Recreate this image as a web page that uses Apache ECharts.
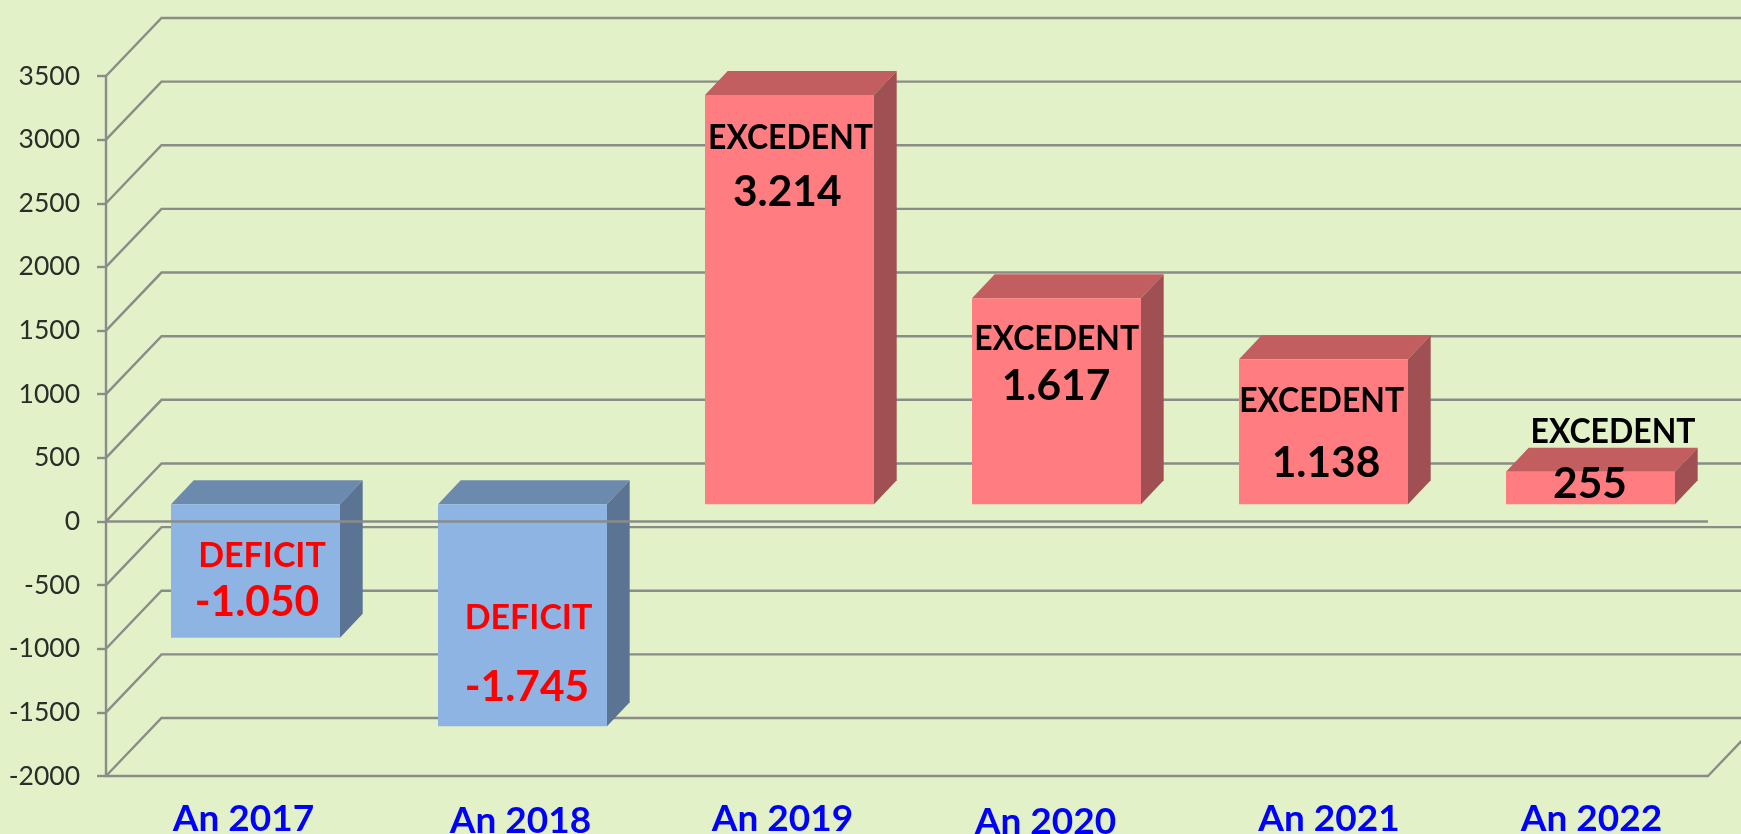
<!DOCTYPE html>
<html>
<head>
<meta charset="utf-8">
<style>html,body{margin:0;padding:0;background:#e3f1c9;overflow:hidden}#c{width:1741px;height:834px}</style>
<script src="https://cdn.jsdelivr.net/npm/echarts@6/dist/echarts.min.js"></script>
</head>
<body>
<div id="c"></div>
<script>
// ---- data ----
const categories = ['An 2017','An 2018','An 2019','An 2020','An 2021','An 2022'];
const balance = [-1050,-1745,3214,1617,1138,255];
const kindLabels = ['DEFICIT','DEFICIT','EXCEDENT','EXCEDENT','EXCEDENT','EXCEDENT'];
const valueLabels = ['-1.050','-1.745','3.214','1.617','1.138','255'];
const gridValues = [-2000,-1500,-1000,-500,0,500,1000,1500,2000,2500,3000,3500];

// ---- layout of hand-placed text boxes (px from band centre / zero line) ----
const categoryNudge = [[4,0],[14,2],[9,0],[5,3],[21.5,0],[17,-1]];
const kindNudge = [[22.5,34.2],[22,96.4],[17,-383.1],[16.2,-182],[14.1,-120],[38.5,-89]];
const valueNudge = [[17.5,81],[20.5,165.5],[13.8,-329],[15.5,-135],[18.5,-58.5],[15.5,-37]];

// ---- styling ----
const FONT = 'Lato';
const LINE = '#8a8c88';
const LINE_W = 2.4;
const WALL = {dx:55.5, dy:-58};
const BAR = {ratio:169/267, offX:16, offY:-17.3, depX:22.7, depY:-24};
const POS = {front:'#FF7C80', top:'#C25D60', side:'#A05053'};
const NEG = {front:'#8DB4E2', top:'#6C89AE', side:'#5B7494'};

function poly(pts, fill){ return {type:'polygon', shape:{points:pts}, style:{fill:fill}}; }

const chart = echarts.init(document.getElementById('c'), null, {renderer:'canvas'});
chart.setOption({
  animation:false,
  backgroundColor:'#e3f1c9',
  grid:{left:106, right:33, top:76, bottom:58, outerBoundsMode:'none'},
  xAxis:{
    type:'category',
    data:categories.map((c,i)=>({value:c, textStyle:{padding:[Math.max(categoryNudge[i][1],0),0,0,2*categoryNudge[i][0]]}})),
    axisLine:{onZero:false, lineStyle:{color:LINE,width:LINE_W}},
    axisTick:{show:false},
    axisLabel:{interval:0, margin:24.5, fontFamily:FONT, fontWeight:'bold', fontSize:37, color:'#0000FF'}
  },
  yAxis:{
    type:'value', min:-2000, max:3500, interval:500,
    splitLine:{show:false},
    axisLine:{show:true, lineStyle:{color:LINE,width:LINE_W}},
    axisTick:{show:true, length:9, lineStyle:{color:LINE,width:LINE_W}},
    axisLabel:{margin:26, fontFamily:FONT, fontSize:26.5, color:'#2a2e28', padding:[5,0,0,0], formatter:v=>String(v)}
  },
  series:[
    { // wall and floor gridlines
      type:'custom', z:1, silent:true,
      coordinateSystem:'cartesian2d',
      encode:{x:0,y:1},
      data:gridValues.map(v=>[0,v]),
      renderItem(params, api){
        const r = params.coordSys;
        const y = api.coord([0, api.value(1)])[1];
        const pts = [[r.x,y],[r.x+WALL.dx,y+WALL.dy],[r.x+r.width+WALL.dx+10,y+WALL.dy]];
        const kids = [{type:'polyline', shape:{points:pts}, style:{stroke:LINE,lineWidth:LINE_W,fill:null}}];
        if (api.value(1) === gridValues[0]) {
          kids.push({type:'line', shape:{x1:r.x+r.width,y1:y,x2:r.x+r.width+WALL.dx,y2:y+WALL.dy}, style:{stroke:LINE,lineWidth:LINE_W}});
        }
        return {type:'group', children:kids};
      }
    },
    { // 3D bars
      type:'custom', z:2, silent:true,
      coordinateSystem:'cartesian2d',
      encode:{x:0,y:1},
      data:balance.map((v,i)=>[i,v]),
      renderItem(params, api){
        const i = api.value(0), v = api.value(1);
        const w = api.size([1,0])[0]*BAR.ratio;
        const c0 = api.coord([i,0]), c1 = api.coord([i,v]);
        const x0 = c0[0]+BAR.offX-w/2, x1 = x0+w;
        const yT = Math.min(c0[1],c1[1])+BAR.offY, yB = Math.max(c0[1],c1[1])+BAR.offY;
        const d = BAR.depX, e = BAR.depY;
        const col = v<0 ? NEG : POS;
        return {type:'group', children:[
          poly([[x0,yT],[x1,yT],[x1+d,yT+e],[x0+d,yT+e]], col.top),
          poly([[x1,yT],[x1+d,yT+e],[x1+d,yB+e],[x1,yB]], col.side),
          {type:'rect', shape:{x:x0,y:yT,width:w,height:yB-yT}, style:{fill:col.front}}
        ]};
      }
    },
    { // zero line in front of the bars
      type:'custom', z:3, silent:true,
      coordinateSystem:'cartesian2d',
      encode:{x:0,y:1},
      data:[[0,0]],
      renderItem(params, api){
        const r = params.coordSys;
        const y = api.coord([0,api.value(1)])[1];
        return {type:'line', shape:{x1:r.x,y1:y,x2:r.x+r.width,y2:y}, style:{stroke:LINE,lineWidth:LINE_W}};
      }
    },
    { // text boxes on the bars
      type:'custom', z:4, silent:true,
      coordinateSystem:'cartesian2d',
      encode:{x:0,y:1},
      data:balance.map((v,i)=>[i,v]),
      renderItem(params, api){
        const i = api.value(0), v = api.value(1);
        const c0 = api.coord([i,0]);
        const color = v<0 ? '#FF0000' : '#000000';
        const mk = (txt,nudge,size,sx)=>({type:'text', x:c0[0]+nudge[0], y:c0[1]+nudge[1], scaleX:sx, style:{
          x:0, y:0, text:txt, align:'center', verticalAlign:'middle',
          fontFamily:FONT, fontWeight:'bold', fontSize:size, fill:color}});
        return {type:'group', children:[
          mk(kindLabels[i],kindNudge[i],34, v<0 ? 1 : 0.94),
          mk(valueLabels[i],valueNudge[i],42.5,1)]};
      }
    }
  ]
});
</script>
</body>
</html>
